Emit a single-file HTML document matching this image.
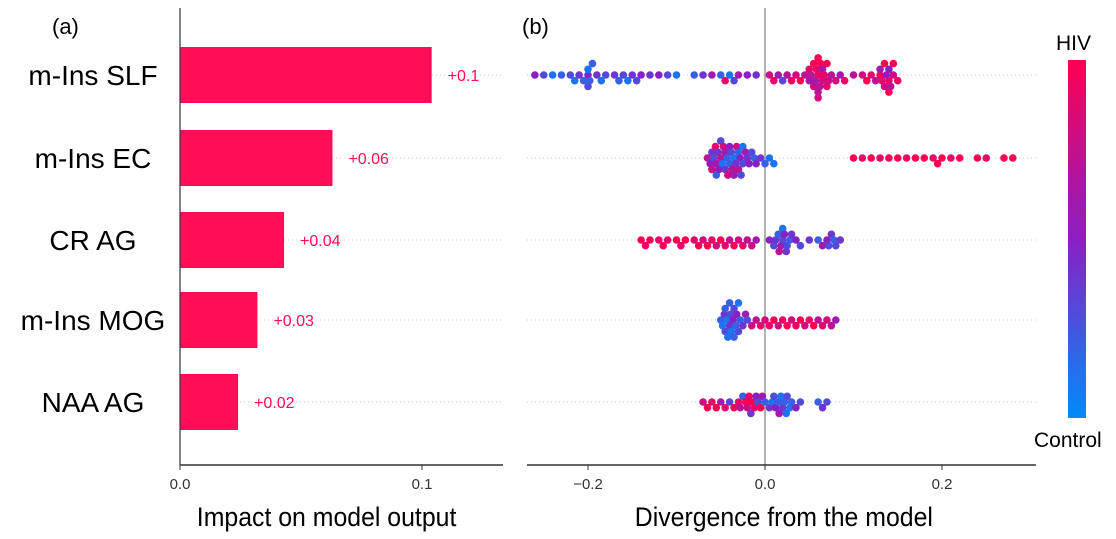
<!DOCTYPE html>
<html><head><meta charset="utf-8"><style>
body{margin:0;background:#fff;font-family:"Liberation Sans",sans-serif}
svg{display:block}
</style></head><body>
<svg id="c" width="1116" height="539" xmlns="http://www.w3.org/2000/svg">
<defs><linearGradient id="cb" x1="0" y1="1" x2="0" y2="0">
<stop offset="0" stop-color="#008bfb"/><stop offset="0.5" stop-color="#8a1fc4"/><stop offset="1" stop-color="#ff0052"/></linearGradient></defs>
<g id="gA"></g><g id="gB"></g>
<rect x="1068" y="60" width="18" height="358" fill="url(#cb)"/>
<text x="1056" y="50" font-size="21">HIV</text>
<text x="1034" y="447" font-size="21">Control</text>
<text x="52" y="34" font-size="22">(a)</text>
<text x="522" y="34" font-size="22">(b)</text>
<text x="327" y="526" font-size="27" text-anchor="middle" transform="scale(0.92,1) translate(28,0)">Impact on model output</text>
<text x="784" y="526" font-size="27" text-anchor="middle" transform="scale(0.92,1) translate(68,0)">Divergence from the model</text>
</svg>
<script>
const features=["m-Ins SLF","m-Ins EC","CR AG","m-Ins MOG","NAA AG"];
const importance=[0.104,0.063,0.043,0.032,0.024];
const importanceLabels=["+0.1","+0.06","+0.04","+0.03","+0.02"];
const ticksA=[0,0.1];const tickLabelsA=["0.0","0.1"];
const ticksB=[-0.2,0,0.2];const tickLabelsB=["\u22120.2","0.0","0.2"];
// beeswarm: divergence values and feature colour (0=control,1=HIV)
const sv0=[-0.26,-0.25,-0.24,-0.23,-0.22,-0.215,-0.21,-0.205,-0.2,-0.2,-0.2,-0.198,-0.195,-0.19,-0.185,-0.18,-0.17,-0.165,-0.16,-0.155,-0.15,-0.145,-0.14,-0.13,-0.12,-0.11,-0.1,-0.08,-0.07,-0.06,-0.05,-0.045,-0.04,-0.035,-0.03,-0.02,-0.01,0.005,0.01,0.015,0.02,0.025,0.03,0.035,0.04,0.045,0.05,0.05,0.052,0.055,0.055,0.057,0.058,0.06,0.06,0.06,0.06,0.062,0.063,0.065,0.065,0.067,0.07,0.07,0.072,0.075,0.08,0.085,0.09,0.1,0.11,0.115,0.12,0.125,0.13,0.13,0.132,0.135,0.135,0.137,0.14,0.14,0.14,0.142,0.145,0.145,0.15];
const fv0=[0.5,0.3,0.1,0.2,0.3,0.1,0.4,0.2,0.5,0.1,0.3,0.2,0.2,0.4,0.1,0.3,0.4,0.2,0.3,0.1,0.4,0.3,0.5,0.4,0.5,0.3,0.1,0.2,0.4,0.6,0.2,0.9,0.1,0.3,0.6,0.5,0.4,0.8,0.9,0.6,0.3,0.7,0.9,0.8,1,0.7,0.6,0.9,0.7,0.8,1,0.6,0.9,0.9,0.7,1,0.8,0.7,1,0.8,0.6,0.9,0.9,1,0.8,0.7,0.8,0.6,0.9,0.7,0.8,1,0.9,0.7,1,0.6,0.9,0.8,1,0.5,0.9,0.5,1,0.7,0.8,1,0.9];
const sv1=[-0.065,-0.062,-0.06,-0.06,-0.058,-0.056,-0.055,-0.055,-0.053,-0.052,-0.05,-0.05,-0.048,-0.047,-0.045,-0.045,-0.043,-0.042,-0.04,-0.04,-0.038,-0.037,-0.035,-0.035,-0.033,-0.032,-0.03,-0.03,-0.028,-0.027,-0.025,-0.025,-0.022,-0.02,-0.018,-0.015,-0.012,-0.01,-0.005,0,0.005,0.01,0.1,0.11,0.12,0.13,0.14,0.15,0.16,0.17,0.18,0.19,0.195,0.2,0.21,0.22,0.24,0.25,0.27,0.28];
const fv1=[0.7,0.5,0.4,0.8,0.3,0.9,0.6,0.2,0.4,0.5,0.7,0.3,0.1,0.8,0.6,0.4,0.2,0.8,0.2,0.5,0.3,0.7,0.1,0.6,0.4,0.8,0.2,0.7,0.5,0.3,0.3,0.1,0.6,0.4,0.5,0.3,0.2,0.5,0.4,0.2,0.1,0.1,1,0.9,1,0.9,1,1,0.9,1,1,0.9,1,1,0.9,1,1,0.9,1,1];
const sv2=[-0.14,-0.135,-0.13,-0.12,-0.115,-0.11,-0.1,-0.095,-0.09,-0.08,-0.075,-0.07,-0.065,-0.06,-0.055,-0.05,-0.045,-0.04,-0.035,-0.03,-0.025,-0.02,-0.015,-0.01,0.005,0.01,0.012,0.015,0.016,0.018,0.02,0.02,0.022,0.024,0.025,0.028,0.03,0.035,0.04,0.05,0.06,0.065,0.07,0.072,0.075,0.078,0.08,0.085];
const fv2=[1,0.9,1,0.9,1,0.9,1,0.9,1,0.9,1,0.8,1,0.9,0.8,1,0.9,0.7,1,0.8,0.9,0.7,0.8,0.6,0.5,0.3,0.4,0.2,0.7,0.6,0.3,0.1,0.5,0.4,0.3,0.2,0.4,0.5,0.3,0.4,0.2,0.6,0.5,0.3,0.4,0.2,0.3,0.4];
const sv3=[-0.05,-0.048,-0.046,-0.045,-0.045,-0.043,-0.042,-0.04,-0.04,-0.039,-0.038,-0.036,-0.035,-0.035,-0.033,-0.032,-0.03,-0.03,-0.028,-0.025,-0.022,-0.02,-0.015,-0.01,-0.005,0,0.005,0.01,0.015,0.02,0.025,0.03,0.035,0.04,0.045,0.05,0.055,0.06,0.065,0.07,0.075,0.08];
const fv3=[0.2,0.1,0.4,0.3,0.2,0.1,0.1,0.4,0.2,0.3,0.1,0.5,0.3,0.2,0.2,0.5,0.3,0.1,0.2,0.4,0.6,0.3,0.8,0.7,0.9,0.8,0.9,1,0.8,0.9,1,0.8,0.9,1,0.8,0.9,1,0.7,0.9,0.8,0.7,0.6];
const sv4=[-0.07,-0.065,-0.06,-0.055,-0.05,-0.045,-0.04,-0.035,-0.03,-0.028,-0.025,-0.022,-0.02,-0.018,-0.016,-0.015,-0.012,-0.01,-0.008,-0.005,-0.003,0,0.005,0.008,0.01,0.012,0.015,0.016,0.018,0.02,0.022,0.024,0.025,0.028,0.03,0.035,0.04,0.06,0.065,0.07];
const fv4=[0.8,1,0.9,1,0.6,0.9,0.3,1,0.9,0.7,0.2,1,0.8,0.9,0.4,1,0.9,0.5,0.3,1,0.6,0.2,0.4,0.1,0.3,0.5,0.2,0.6,0.1,0.4,0.2,0.1,0.3,0.1,0.2,0.5,0.3,0.2,0.4,0.3];
const rows=[[sv0,fv0],[sv1,fv1],[sv2,fv2],[sv3,fv3],[sv4,fv4]];

const NS="http://www.w3.org/2000/svg";
function el(t,a,p){const e=document.createElementNS(NS,t);for(const k in a)e.setAttribute(k,a[k]);p.appendChild(e);return e;}
const rowY=[75,158,240,320,402];
const xA=v=>180+v*2420, xB=v=>765+v*885;
const gA=document.getElementById('gA'),gB=document.getElementById('gB');
// panel A
for(let i=0;i<features.length;i++){
  const y=rowY[i];
  const ln=el('line',{x1:180,x2:503,y1:y,y2:y,stroke:'#ccc','stroke-dasharray':'1,3'},gA);
  
  
  const b=el('rect',{x:180,y:y-28,width:xA(importance[i])-180,height:56,fill:'#ff0d57'},gA);
  
  
  const v=el('text',{x:xA(importance[i])+16,y:y+6,'font-size':16,fill:'#ff0d57'},gA);v.textContent=importanceLabels[i];
  
  
  const t=el('text',{x:93,y:y+10,'font-size':28,'text-anchor':'middle'},gA);t.textContent=features[i];
  
  
}
let a=el('line',{x1:180,x2:180,y1:8,y2:465,stroke:'#333','stroke-width':1.2},gA);

a=el('line',{x1:180,x2:503,y1:465,y2:465,stroke:'#333','stroke-width':1.5},gA);

ticksA.forEach((v,i)=>{el('line',{x1:xA(v),x2:xA(v),y1:465,y2:470,stroke:'#333'},gA);
 const t=el('text',{x:xA(v),y:489,'font-size':15,'text-anchor':'middle',fill:'#333'},gA);t.textContent=tickLabelsA[i];
 });
// panel B
for(let i=0;i<rows.length;i++){
  const ln=el('line',{x1:527,x2:1036,y1:rowY[i],y2:rowY[i],stroke:'#ccc','stroke-dasharray':'1,3'},gB);
  
  
}
a=el('line',{x1:765,x2:765,y1:8,y2:465,stroke:'#999','stroke-width':1.5},gB);

function col(f){const c1=[0,139,251],c2=[138,31,196],c3=[255,0,82];let a,b,t;
 if(f<0.5){a=c1;b=c2;t=f*2}else{a=c2;b=c3;t=(f-0.5)*2}
 return 'rgb('+a.map((v,i)=>Math.round(v+(b[i]-v)*t)).join(',')+')';}
const r=3.8;
rows.forEach(([sv,fv],ri)=>{
  const placed=[];
  sv.forEach((v,j)=>{const x=xB(v);let off=0,k=0;
    while(true){off=(k%2?1:-1)*Math.ceil(k/2)*r*1.5;
      if(!placed.some(p=>Math.abs(p[0]-x)<r*1.6&&Math.abs(p[1]-off)<r*1.4))break;k++;}
    placed.push([x,off]);
    const c=el('circle',{cx:x,cy:rowY[ri]+off,r:r,fill:col(fv[j])},gB);
    
    });
});
a=el('line',{x1:527,x2:1036,y1:465,y2:465,stroke:'#333','stroke-width':1.5},gB);

ticksB.forEach((v,i)=>{el('line',{x1:xB(v),x2:xB(v),y1:465,y2:470,stroke:'#333'},gB);
 const t=el('text',{x:xB(v),y:489,'font-size':15,'text-anchor':'middle',fill:'#333'},gB);t.textContent=tickLabelsB[i];
 });
</script>
</body></html>
